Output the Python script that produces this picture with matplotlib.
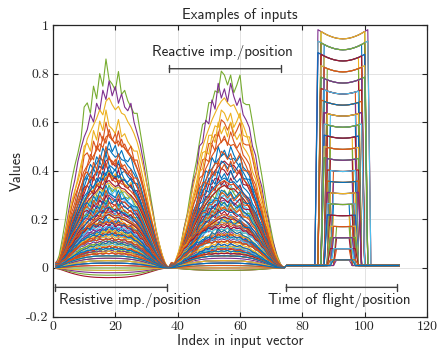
import numpy as np
import matplotlib.pyplot as plt

# MATLAB default colour order
colors = ['#0072BD', '#D95319', '#EDB120', '#7E2F8E', '#77AC30', '#4DBEEE', '#A2142F']

# peak of the resistive bell, one value per example (rows of 7 = one colour cycle)
res_peak = [0.02, 0.01, -0.01, -0.02, -0.03, -0.01, -0.04,
            0.05, 0.06, 0.03, 0.01, 0.00, 0.03, 0.03,
            0.08, 0.09, 0.05, 0.02, 0.02, 0.05, 0.06,
            0.11, 0.12, 0.07, 0.04, 0.03, 0.08, 0.09,
            0.14, 0.15, 0.09, 0.05, 0.04, 0.10, 0.12,
            0.17, 0.19, 0.11, 0.07, 0.05, 0.12, 0.15,
            0.21, 0.23, 0.13, 0.09, 0.07, 0.14, 0.18,
            0.25, 0.27, 0.16, 0.11, 0.08, 0.17, 0.22,
            0.29, 0.32, 0.19, 0.14, 0.10, 0.20, 0.25,
            0.34, 0.38, 0.21, 0.16, 0.12, 0.23, 0.30,
            0.40, 0.46, 0.24, 0.18, 0.15, 0.27, 0.36,
            0.42, 0.50, 0.35, 0.20, 0.28, 0.31, 0.39,
            0.47, 0.55, 0.40, 0.26, 0.22, 0.33, 0.43,
            0.49, 0.57, 0.65, 0.30, 0.34, 0.37, 0.45,
            0.52, 0.60, 0.70, 0.77, 0.86]

# peak of the reactive bell
rea_peak = [0.02, 0.01, 0.00, 0.00, -0.01, 0.01, -0.01,
            0.05, 0.05, 0.03, 0.02, 0.01, 0.03, 0.03,
            0.07, 0.08, 0.05, 0.03, 0.02, 0.05, 0.06,
            0.10, 0.11, 0.07, 0.04, 0.03, 0.07, 0.08,
            0.13, 0.14, 0.09, 0.06, 0.05, 0.09, 0.11,
            0.16, 0.18, 0.11, 0.08, 0.06, 0.11, 0.14,
            0.20, 0.22, 0.14, 0.10, 0.07, 0.13, 0.17,
            0.24, 0.26, 0.16, 0.12, 0.09, 0.16, 0.21,
            0.28, 0.31, 0.19, 0.15, 0.11, 0.19, 0.24,
            0.32, 0.36, 0.21, 0.17, 0.13, 0.22, 0.29,
            0.37, 0.44, 0.25, 0.19, 0.16, 0.26, 0.34,
            0.40, 0.48, 0.34, 0.22, 0.27, 0.30, 0.37,
            0.44, 0.53, 0.60, 0.25, 0.21, 0.31, 0.41,
            0.47, 0.56, 0.65, 0.28, 0.33, 0.35, 0.44,
            0.50, 0.61, 0.70, 0.76, 0.81]

# normalised bell profiles (37 points each)
res_a = [0.02, 0.06, 0.14, 0.23, 0.33, 0.42, 0.49, 0.55, 0.62, 0.77, 0.79, 0.74, 0.87, 0.81, 0.93, 0.87, 1.00, 0.90, 0.88,
         0.85, 0.94, 0.83, 0.85, 0.80, 0.77, 0.74, 0.74, 0.65, 0.56, 0.47, 0.37, 0.28, 0.19, 0.12, 0.06, 0.02, 0.00]
res_b = [0.01, 0.04, 0.10, 0.18, 0.27, 0.36, 0.45, 0.53, 0.61, 0.68, 0.76, 0.80, 0.84, 0.88, 0.93, 0.90, 0.98, 1.00, 0.96,
         0.93, 0.95, 0.91, 0.90, 0.86, 0.83, 0.79, 0.74, 0.67, 0.59, 0.50, 0.41, 0.32, 0.23, 0.15, 0.08, 0.03, 0.00]
res_c = [0.03, 0.05, 0.12, 0.20, 0.30, 0.40, 0.47, 0.57, 0.64, 0.70, 0.74, 0.82, 0.78, 0.88, 0.84, 0.95, 0.90, 1.00, 0.92,
         0.97, 0.88, 0.93, 0.86, 0.84, 0.88, 0.78, 0.72, 0.66, 0.57, 0.46, 0.38, 0.30, 0.20, 0.13, 0.07, 0.02, 0.00]
rea_a = [0.00, 0.02, 0.06, 0.12, 0.20, 0.27, 0.37, 0.46, 0.54, 0.64, 0.73, 0.74, 0.84, 0.84, 0.90, 0.89, 1.00, 0.98, 0.93,
         0.98, 0.89, 0.93, 0.98, 0.84, 0.83, 0.83, 0.74, 0.64, 0.56, 0.47, 0.37, 0.27, 0.19, 0.11, 0.06, 0.02, 0.00]
rea_b = [0.00, 0.03, 0.08, 0.14, 0.22, 0.30, 0.39, 0.48, 0.56, 0.64, 0.71, 0.77, 0.82, 0.87, 0.91, 0.95, 0.98, 1.00, 0.97,
         0.95, 0.96, 0.92, 0.88, 0.84, 0.79, 0.73, 0.67, 0.60, 0.52, 0.43, 0.34, 0.26, 0.18, 0.11, 0.05, 0.02, 0.00]
rea_c = [0.01, 0.02, 0.07, 0.11, 0.21, 0.28, 0.35, 0.47, 0.52, 0.66, 0.68, 0.80, 0.78, 0.91, 0.86, 1.00, 0.92, 0.97, 0.90,
         1.00, 0.93, 0.88, 0.92, 0.83, 0.80, 0.76, 0.66, 0.61, 0.50, 0.44, 0.33, 0.27, 0.17, 0.12, 0.05, 0.02, 0.00]
broad_d = [0.05, 0.12, 0.22, 0.33, 0.44, 0.54, 0.63, 0.71, 0.78, 0.84, 0.88, 0.92, 0.95, 0.97, 0.98, 0.99, 1.00, 1.00, 0.99,
           0.99, 0.98, 0.97, 0.95, 0.92, 0.88, 0.84, 0.78, 0.71, 0.63, 0.54, 0.44, 0.34, 0.24, 0.15, 0.08, 0.03, 0.00]
broad_e = [0.12, 0.10, 0.24, 0.31, 0.46, 0.52, 0.65, 0.70, 0.80, 0.82, 0.90, 0.91, 0.97, 0.93, 1.00, 0.95, 1.00, 0.97, 1.03,
           0.94, 0.99, 0.95, 0.97, 0.89, 0.90, 0.81, 0.79, 0.68, 0.64, 0.51, 0.45, 0.31, 0.25, 0.13, 0.09, 0.02, 0.00]

# time of flight: one level per group of 5 examples, with first/last index of the plateau
tof_level = [0.033, 0.079, 0.124, 0.170, 0.215, 0.261, 0.306, 0.352, 0.397, 0.443, 0.488,
             0.534, 0.579, 0.625, 0.670, 0.716, 0.761, 0.807, 0.852, 0.898, 0.943]
tof_first = [90, 90, 90, 90, 89, 89, 89, 89, 89, 88, 88, 88, 88, 88, 87, 87, 87, 87, 86, 86, 86]
tof_last = [96, 96, 96, 96, 96, 96, 97, 97, 97, 97, 97, 97, 98, 98, 98, 98, 99, 99, 99, 100, 100]
first_off = [0, -1, 0, 1, -1]
last_off = [0, 1, 0, -1, 1]
tof_base = 0.01
# dip of the plateau towards its middle (relative), over indices 75..111
tof_bowl = [0, 0, 0, 0, 0, 0, 0, 0, 0, 1.0, 1.0, 0.8, 0.6, 0.42, 0.28, 0.16, 0.07, 0.02, 0.0,
            0.02, 0.07, 0.16, 0.28, 0.42, 0.6, 0.8, 1.0, 1.0, 0, 0, 0, 0, 0, 0, 0, 0, 0]

res_x = np.arange(1, 38)
rea_x = np.arange(38, 75)
tof_x = np.arange(75, 112)
x = np.concatenate([res_x, rea_x, tof_x])

plt.rcParams['font.family'] = 'cmss10'
plt.rcParams['axes.unicode_minus'] = False

fig, ax = plt.subplots(figsize=(4.39, 3.54), dpi=100)
fig.subplots_adjust(left=0.1207, right=0.9727, bottom=0.1059, top=0.9294)

n = len(res_peak)
for i in reversed(range(n)):
    rp = res_peak[i]
    ap = rea_peak[i]
    if abs(rp) < 0.06:
        rs, qs = broad_d, broad_d
    elif rp < 0.2:
        rs, qs = [broad_e, res_c][i % 2], [broad_e, rea_c][i % 2]
    else:
        rs, qs = [res_a, res_b, res_c][i % 3], [rea_a, rea_b, rea_c][i % 3]
    g = i // 5
    lvl = tof_level[g]
    x0 = tof_first[g] + first_off[i % 5]
    x1 = tof_last[g] + last_off[i % 5]
    tof = np.where((tof_x >= x0) & (tof_x <= x1),
                   lvl + 0.04 * lvl * np.array(tof_bowl), tof_base)
    y = np.concatenate([rp * np.array(rs), ap * np.array(qs), tof])
    ax.plot(x, y, color=colors[i % 7], lw=0.8)

# section markers
bar = dict(arrowstyle='|-|, widthA=0.25, widthB=0.25', color='#404040', lw=1,
           shrinkA=0, shrinkB=0)
ax.annotate('', xy=(0.7, -0.08), xytext=(36.5, -0.08), arrowprops=bar)
ax.annotate('', xy=(37.3, 0.82), xytext=(73, 0.82), arrowprops=bar)
ax.annotate('', xy=(74.8, -0.08), xytext=(110.5, -0.08), arrowprops=bar)
ax.text(24.7, -0.135, 'Resistive imp./position', ha='center', va='center', fontsize=10.8, color='#262626')
ax.text(54.5, 0.885, 'Reactive imp./position', ha='center', va='center', fontsize=10.8, color='#262626')
ax.text(91.9, -0.135, 'Time of flight/position', ha='center', va='center', fontsize=10.8, color='#262626')

ax.set_xlim(0, 120)
ax.set_ylim(-0.2, 1)
ax.set_xticks([0, 20, 40, 60, 80, 100, 120])
ax.set_xticklabels(['0', '20', '40', '60', '80', '100', '120'], fontfamily='cmr10', fontsize=10)
ax.set_yticks([-0.2, 0, 0.2, 0.4, 0.6, 0.8, 1])
ax.set_yticklabels(['-0.2', '0', '0.2', '0.4', '0.6', '0.8', '1'], fontfamily='cmr10', fontsize=10)
ax.tick_params(direction='in', top=True, right=True, length=3.5, width=0.8, colors='#262626', pad=3)
ax.grid(True, color='#e3e3e3', lw=0.7)
ax.set_axisbelow(True)
for s in ax.spines.values():
    s.set_color('#262626')
    s.set_linewidth(0.9)

ax.set_title('Examples of inputs', fontsize=10.5, color='#262626', pad=4)
ax.set_xlabel('Index in input vector', fontsize=10.5, color='#262626', labelpad=1)
ax.set_ylabel('Values', fontsize=10.5, color='#262626', labelpad=2)

plt.savefig('out.png', dpi=100)
